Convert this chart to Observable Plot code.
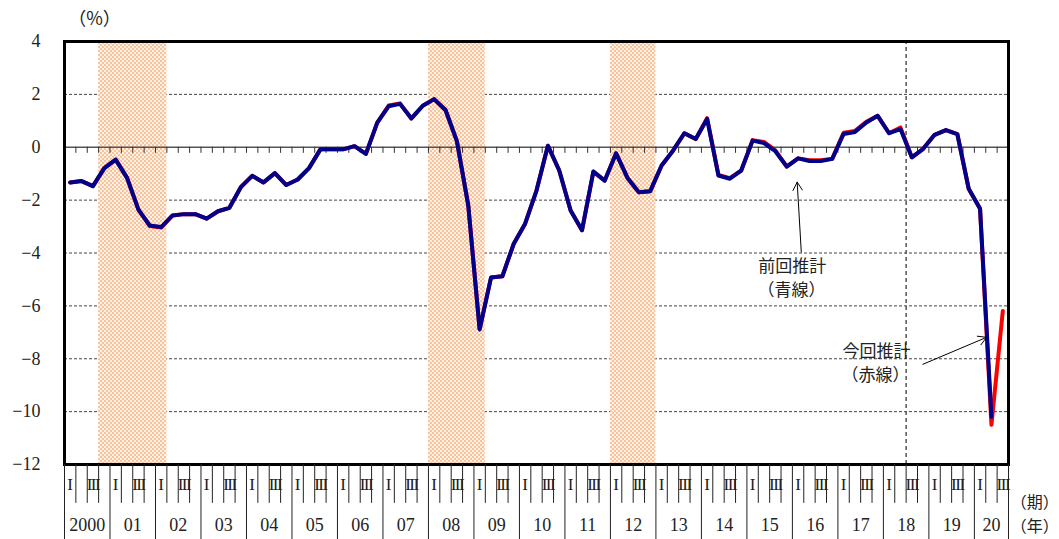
<!DOCTYPE html>
<html>
<head>
<meta charset="utf-8">
<script src="https://cdn.jsdelivr.net/npm/d3@7"></script>
<script src="https://cdn.jsdelivr.net/npm/@observablehq/plot@0.6"></script>
<style>
  html, body { margin: 0; padding: 0; background: #fff; }
</style>
</head>
<body>
<svg width="0" height="0" style="position:absolute">
  <defs>
    <pattern id="chk" width="4" height="4" patternUnits="userSpaceOnUse">
      <rect width="4" height="4" fill="#FFF1E6"/>
      <rect width="2" height="2" fill="#F8C29B"/>
      <rect x="2" y="2" width="2" height="2" fill="#F8C29B"/>
    </pattern>
  </defs>
</svg>
<div id="chart"></div>
<script>
// ---- data (quarterly, 2000Q1 ... ) ----
const startYear = 2000;
const yearLabels = ["2000","01","02","03","04","05","06","07","08","09","10",
                    "11","12","13","14","15","16","17","18","19","20"];
const quarterLabels = ["I", "III"];          // shown for Q1 and Q3
const nQuarters = 83;                        // 2000Q1 .. 2020Q3

// 前回推計 (blue), 2000Q1 .. 2020Q2
const prevEstimate = [
  -1.33, -1.28, -1.47, -0.79,   -0.47, -1.16, -2.36, -2.96,
  -3.02, -2.58, -2.53, -2.53,   -2.70, -2.42, -2.29, -1.51,
  -1.08, -1.33, -0.98, -1.43,   -1.22, -0.79, -0.08, -0.08,
  -0.08,  0.04, -0.25,  0.93,    1.55,  1.64,  1.09,  1.57,
   1.82,  1.41,  0.23, -2.20,   -6.89, -4.93, -4.88, -3.65,
  -2.89, -1.64,  0.06, -0.88,   -2.39, -3.14, -0.92, -1.26,
  -0.23, -1.16, -1.70, -1.66,   -0.69, -0.13,  0.53,  0.31,
   1.07, -1.07, -1.19, -0.88,    0.25,  0.16, -0.15, -0.73,
  -0.42, -0.52, -0.52, -0.44,    0.50,  0.58,  0.94,  1.19,
   0.53,  0.69, -0.38, -0.06,    0.47,  0.65,  0.50, -1.57,
  -2.33, -10.19
];
// 今回推計 (red), 2000Q1 .. 2020Q3
const currEstimate = [
  -1.33, -1.28, -1.47, -0.79,   -0.47, -1.16, -2.36, -2.98,
  -3.04, -2.58, -2.53, -2.53,   -2.70, -2.42, -2.29, -1.51,
  -1.08, -1.33, -0.98, -1.43,   -1.22, -0.79, -0.08, -0.08,
  -0.08,  0.04, -0.25,  0.93,    1.58,  1.66,  1.09,  1.57,
   1.82,  1.41,  0.23, -2.20,   -6.89, -4.93, -4.88, -3.65,
  -2.89, -1.64,  0.06, -0.88,   -2.39, -3.14, -0.92, -1.26,
  -0.23, -1.16, -1.70, -1.66,   -0.69, -0.13,  0.53,  0.31,
   1.10, -1.05, -1.17, -0.88,    0.27,  0.20, -0.12, -0.73,
  -0.42, -0.49, -0.49, -0.44,    0.55,  0.62,  0.96,  1.19,
   0.53,  0.75, -0.38, -0.06,    0.47,  0.65,  0.50, -1.57,
  -2.33, -10.50, -6.19
];

const recessionStart = ["2000Q4", "2008Q1", "2012Q1"];
const recessionEnd   = ["2002Q1", "2009Q1", "2012Q4"];
const latestPeak = "2018Q3";
const yTicks = [-12, -10, -8, -6, -4, -2, 0, 2, 4];
const gridValues = [2, -2, -4, -6, -8, -10];

// ---- helpers ----
const qIndex = s => (+s.slice(0, 4) - startYear) * 4 + (+s.slice(5) - 1);
const prevData = prevEstimate.map((v, i) => ({x: i + 0.5, y: v}));
const currData = currEstimate.map((v, i) => ({x: i + 0.5, y: v}));
const recessions = recessionStart.map((s, k) => ({x1: qIndex(s), x2: qIndex(recessionEnd[k]) + 1}));
const boundaries = d3.range(1, nQuarters);
const yearLines = d3.range(0, nQuarters, 4).concat([nQuarters]);
const quarterLines = d3.range(1, nQuarters).filter(i => i % 4 !== 0);
const qLabelData = [];
yearLabels.forEach((_, k) => {
  qLabelData.push({x: 4 * k + 0.5, t: quarterLabels[0]});
  if (4 * k + 2 < nQuarters) qLabelData.push({x: 4 * k + 2.5, t: quarterLabels[1]});
});
const yLabelData = yearLabels.map((t, k) => ({x: (4 * k + Math.min(4 * k + 4, nQuarters)) / 2, t}));

const serif = "Liberation Serif, DejaVu Serif, serif";
const jp = "Noto Sans CJK JP, sans-serif";

const chart = Plot.plot({
  width: 1059,
  height: 539,
  marginLeft: 64,
  marginRight: 51,
  marginTop: 41,
  marginBottom: 75,
  x: {domain: [0, nQuarters], axis: null},
  y: {domain: [-12, 4], axis: null},
  style: {fontFamily: serif, background: "white", overflow: "visible"},
  marks: [
    Plot.ruleY(gridValues, {stroke: "#444", strokeWidth: 1, strokeDasharray: "3,2"}),
    Plot.rect(recessions, {x1: "x1", x2: "x2", y1: -12, y2: 4, fill: "url(#chk)"}),
    Plot.ruleY([0], {stroke: "#555", strokeWidth: 1.5}),
    Plot.ruleX(boundaries, {y1: 0, y2: -0.23, stroke: "#333", strokeWidth: 1}),
    Plot.ruleX([qIndex(latestPeak)], {y1: -12, y2: 4, stroke: "#555", strokeWidth: 1.5, strokeDasharray: "4,3"}),
    Plot.line(currData, {x: "x", y: "y", stroke: "#FF0000", strokeWidth: 4, strokeLinejoin: "round"}),
    Plot.line(prevData, {x: "x", y: "y", stroke: "#00008B", strokeWidth: 4, strokeLinejoin: "round"}),
    Plot.frame({stroke: "black", strokeWidth: 3}),
    Plot.axisY({ticks: yTicks, tickSize: 0, tickPadding: 24, fontSize: 18, label: null, fill: "#222"}),
    // bottom category axis
    Plot.ruleX(quarterLines, {y1: -12, y2: -13.47, stroke: "#222", strokeWidth: 1}),
    Plot.ruleX(yearLines, {y1: -12, y2: -14.85, stroke: "#222", strokeWidth: 1}),
    Plot.text(qLabelData, {x: "x", y: -12.75, text: "t", fontSize: 17, fontFamily: serif, fill: "#222"}),
    Plot.text(yLabelData, {x: "x", y: -14.28, text: "t", fontSize: 18, fontFamily: serif, fill: "#222"}),
    Plot.text(["（期）"], {x: 83.2, y: -13.45, text: d => d, textAnchor: "start", fontSize: 16, fontFamily: jp, fill: "#222"}),
    Plot.text(["（年）"], {x: 83.2, y: -14.35, text: d => d, textAnchor: "start", fontSize: 16, fontFamily: jp, fill: "#222"}),
    Plot.text(["（%）"], {x: 2.64, y: 4.86, text: d => d, fontSize: 18, fontFamily: jp, fill: "#222"}),
    // annotations
    Plot.text(["前回推計"], {x: 63.98, y: -4.50, text: d => d, fontSize: 17, fontFamily: jp, fill: "#222"}),
    Plot.text(["（青線）"], {x: 63.92, y: -5.41, text: d => d, fontSize: 17, fontFamily: jp, fill: "#222"}),
    Plot.text(["今回推計"], {x: 71.4, y: -7.74, text: d => d, fontSize: 17, fontFamily: jp, fill: "#222"}),
    Plot.text(["（赤線）"], {x: 71.31, y: -8.62, text: d => d, fontSize: 17, fontFamily: jp, fill: "#222"}),
    Plot.arrow([{x1: 64.78, y1: -3.96, x2: 64.42, y2: -1.32}], {x1: "x1", y1: "y1", x2: "x2", y2: "y2", stroke: "black", strokeWidth: 1, headLength: 14}),
    Plot.arrow([{x1: 75.47, y1: -8.21, x2: 81.07, y2: -7.19}], {x1: "x1", y1: "y1", x2: "x2", y2: "y2", stroke: "black", strokeWidth: 1, headLength: 14})
  ]
});
document.getElementById("chart").appendChild(chart);
d3.select(chart).selectAll("text").filter(function() { return this.textContent === "III"; })
  .attr("letter-spacing", "-1.5");
</script>
</body>
</html>
